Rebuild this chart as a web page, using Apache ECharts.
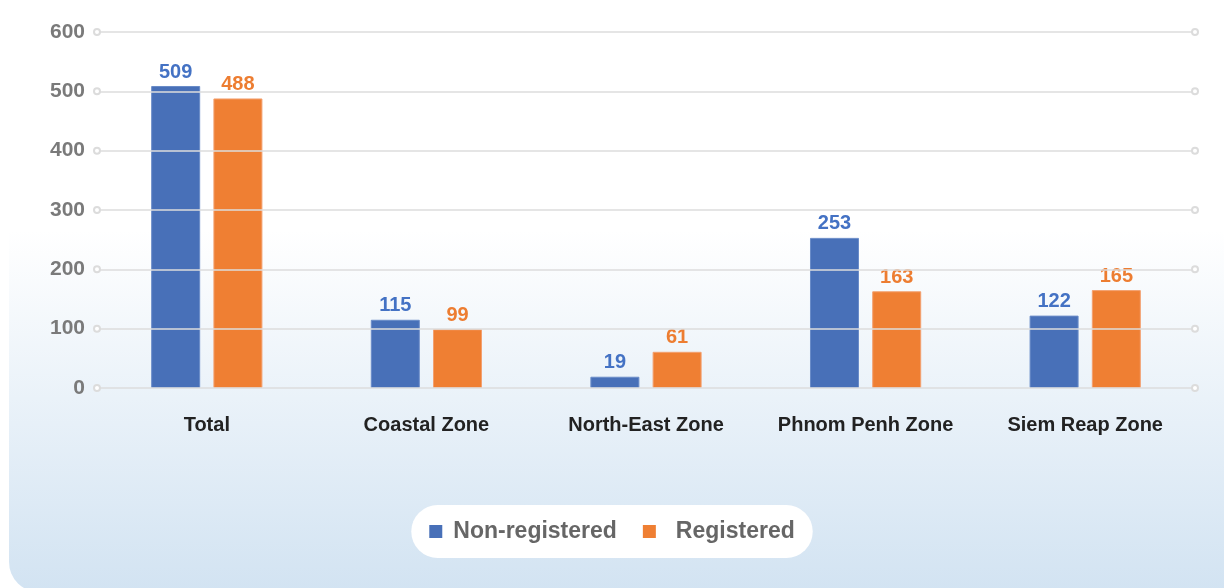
<!DOCTYPE html>
<html>
<head>
<meta charset="utf-8">
<script src="https://cdn.jsdelivr.net/npm/echarts@6/dist/echarts.min.js"></script>
<style>
  html, body { margin: 0; padding: 0; background: #fff; }
  #chart { width: 1224px; height: 588px; }
</style>
</head>
<body>
<div id="chart"></div>
<script>
  const categories = ['Total', 'Coastal Zone', 'North-East Zone', 'Phnom Penh Zone', 'Siem Reap Zone']
  const nonRegistered = [509, 115, 19, 253, 122]
  const registered = [488, 99, 61, 163, 165]
  const yTicks = [0, 100, 200, 300, 400, 500, 600]

  const chart = echarts.init(document.getElementById('chart'))
  const font = 'Liberation Sans, Arial, sans-serif'

  const option = {
    animation: false,
    graphic: [
      {
        type: 'rect',
        z: -10,
        shape: { x: 9, y: 230, width: 1240, height: 362, r: [0, 0, 0, 30] },
        style: {
          fill: new echarts.graphic.LinearGradient(0, 0, 0, 1, [
            { offset: 0, color: '#ffffff' },
            { offset: 1, color: '#d2e3f2' }
          ])
        }
      }
    ],
    grid: { left: 97, right: 29, top: 32, bottom: 200 },
    legend: {
      data: [
        { name: 'Non-registered', textStyle: { padding: [0, 0, 0, 6] } },
        { name: 'Registered', textStyle: { padding: [0, 0, 0, 15] } }
      ],
      left: 'center',
      top: 505,
      backgroundColor: '#ffffff',
      borderRadius: 27,
      padding: [15, 18, 15, 18],
      itemWidth: 13,
      itemHeight: 13,
      itemGap: 26,
      icon: 'rect',
      itemStyle: { borderWidth: 0 },
      textStyle: { color: '#666666', fontSize: 23, fontWeight: 'bold', fontFamily: font }
    },
    xAxis: {
      type: 'category',
      data: categories,
      axisLine: { show: false },
      axisTick: { show: false },
      axisLabel: {
        color: '#222222',
        fontSize: 20,
        fontWeight: 'bold',
        fontFamily: font,
        margin: 27,
        interval: 0
      }
    },
    yAxis: {
      type: 'value',
      min: 0,
      max: 600,
      interval: 100,
      axisLine: { show: false },
      axisTick: { show: false },
      splitLine: { show: false },
      axisLabel: {
        color: '#7a7a7a',
        fontSize: 21,
        fontWeight: 'bold',
        fontFamily: font,
        margin: 12
      }
    },
    series: [
      {
        // 网格线 (带两端小圆点)
        name: 'grid',
        type: 'line',
        data: [],
        z: 1,
        markLine: {
          silent: true,
          symbol: ['emptyCircle', 'emptyCircle'],
          symbolSize: 6,
          label: { show: false },
          lineStyle: { color: '#dcdcdc', width: 1.5, type: 'solid' },
          emphasis: { disabled: true },
          data: yTicks.map(v => ({ yAxis: v }))
        }
      },
      {
        name: 'Non-registered',
        type: 'bar',
        data: nonRegistered,
        barWidth: 49,
        barGap: '27%',
        itemStyle: { color: '#4870b8', borderColor: '#6a8cc8', borderWidth: 1 },
        label: {
          show: true,
          position: 'top',
          distance: 4,
          color: '#4472c4',
          fontSize: 20,
          fontWeight: 'bold',
          fontFamily: font
        },
        z: 3
      },
      {
        name: 'Registered',
        type: 'bar',
        data: registered,
        barWidth: 49,
        itemStyle: { color: '#ef7f33', borderColor: '#f3a070', borderWidth: 1 },
        label: {
          show: true,
          position: 'top',
          distance: 4,
          color: '#ed7d31',
          fontSize: 20,
          fontWeight: 'bold',
          fontFamily: font
        },
        z: 3
      }
    ]
  }
  chart.setOption(option)
</script>
</body>
</html>
